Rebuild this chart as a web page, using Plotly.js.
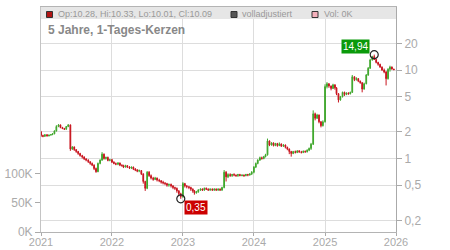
<!DOCTYPE html>
<html>
<head>
<meta charset="utf-8">
<script src="https://cdn.plot.ly/plotly-3.0.1.min.js"></script>
<style>
  html, body { margin: 0; padding: 0; background: #fff; }
  #chart { width: 450px; height: 250px; }
</style>
</head>
<body>
<div id="chart"></div>
<script>
// ---- Data, 3 candles per month, 2021-2025 ----
const years = [2021, 2022, 2023, 2024, 2025];
const candleDays = [1, 11, 21];

const open = [
  2.00,1.82,1.78, 1.86,1.80,1.84, 1.86,1.90,2.05, 2.30,2.40,2.24, 2.18,2.14,2.30, 2.40,1.28,1.35,
  1.26,1.20,1.14, 1.08,1.04,0.99, 0.96,0.92,0.88, 0.84,0.77,0.71, 0.88,0.96,1.12, 1.00,1.03,0.95,
  0.97,0.91,0.88, 0.86,0.89,0.84, 0.83,0.80,0.83, 0.80,0.78,0.80, 0.76,0.74,0.72, 0.73,0.67,0.55,
  0.46,0.70,0.64, 0.60,0.58,0.60, 0.57,0.56,0.54, 0.53,0.52,0.50, 0.51,0.49,0.47, 0.46,0.43,0.40,
  0.37,0.52,0.49, 0.48,0.47,0.45, 0.43,0.41,0.42, 0.44,0.45,0.44, 0.46,0.45,0.44, 0.45,0.44,0.45,
  0.44,0.45,0.44, 0.47,0.70,0.62, 0.66,0.64,0.66, 0.65,0.64,0.66, 0.64,0.65,0.64, 0.66,0.65,0.67,
  0.70,0.80,0.88, 0.96,1.02,1.00, 1.05,1.10,1.58, 1.42,1.50,1.40, 1.48,1.40,1.46, 1.38,1.42,1.34,
  1.28,1.20,1.14, 1.20,1.17,1.22, 1.19,1.17,1.21, 1.19,1.24,1.30, 1.45,3.20,2.85, 3.10,2.60,2.35,
  2.60,6.50,7.00, 6.60,6.20,6.80, 6.30,5.40,4.60, 5.00,5.60,5.30, 5.50,5.40,5.60, 8.40,7.80,8.00,
  7.50,7.20,6.10, 7.00,8.80,10.50, 13.00,14.20,13.20, 12.20,11.60,10.80, 10.00,9.50,8.00, 10.20,10.80,10.28
];
const high = [
  2.05,1.86,1.88, 1.88,1.86,1.89, 1.92,2.08,2.38, 2.45,2.42,2.28, 2.22,2.33,2.45, 2.42,1.38,1.37,
  1.28,1.22,1.16, 1.10,1.06,1.01, 0.98,0.93,0.90, 0.86,0.79,0.90, 0.98,1.18,1.14, 1.05,1.05,0.99,
  0.99,0.93,0.90, 0.91,0.90,0.86, 0.85,0.85,0.84, 0.82,0.81,0.81, 0.78,0.76,0.75, 0.74,0.68,0.56,
  0.72,0.72,0.66, 0.62,0.62,0.61, 0.59,0.57,0.56, 0.54,0.53,0.52, 0.52,0.50,0.48, 0.47,0.44,0.41,
  0.54,0.53,0.50, 0.49,0.48,0.46, 0.44,0.43,0.45, 0.46,0.46,0.47, 0.47,0.46,0.46, 0.46,0.46,0.46,
  0.46,0.46,0.48, 0.74,0.72,0.68, 0.68,0.67,0.68, 0.66,0.67,0.67, 0.66,0.66,0.67, 0.67,0.68,0.72,
  0.82,0.90,0.98, 1.05,1.05,1.07, 1.13,1.68,1.60, 1.53,1.52,1.50, 1.50,1.52,1.48, 1.45,1.44,1.36,
  1.30,1.22,1.22, 1.23,1.24,1.24, 1.22,1.23,1.23, 1.27,1.33,1.50, 3.50,3.30,3.20, 3.15,2.65,2.70,
  6.90,7.30,7.10, 6.70,7.00,6.90, 6.40,5.50,5.10, 5.70,5.70,5.60, 5.60,5.70,8.80, 8.50,8.30,8.10,
  7.60,7.30,7.20, 9.00,10.80,13.40, 14.50,14.94,13.40, 12.40,11.80,11.00, 10.40,9.80,10.50, 11.20,11.00,10.33
];
const low = [
  1.75,1.74,1.76, 1.77,1.78,1.82, 1.84,1.88,2.02, 2.26,2.20,2.15, 2.10,2.12,2.26, 1.22,1.25,1.22,
  1.16,1.10,1.05, 1.00,0.96,0.93, 0.89,0.85,0.82, 0.74,0.69,0.70, 0.86,0.94,0.97, 0.97,0.93,0.93,
  0.89,0.86,0.84, 0.84,0.82,0.81, 0.78,0.79,0.78, 0.76,0.76,0.74, 0.72,0.70,0.70, 0.65,0.52,0.43,
  0.45,0.62,0.58, 0.56,0.57,0.55, 0.54,0.52,0.51, 0.50,0.48,0.48, 0.47,0.45,0.44, 0.41,0.38,0.35,
  0.36,0.47,0.46, 0.45,0.43,0.41, 0.39,0.40,0.41, 0.43,0.43,0.43, 0.44,0.43,0.43, 0.43,0.43,0.43,
  0.43,0.43,0.43, 0.46,0.55,0.60, 0.62,0.62,0.63, 0.62,0.62,0.63, 0.63,0.62,0.63, 0.63,0.64,0.65,
  0.68,0.78,0.86, 0.94,0.97,0.98, 1.03,1.08,1.38, 1.40,1.37,1.38, 1.36,1.38,1.35, 1.35,1.30,1.24,
  1.12,1.05,1.12, 1.14,1.15,1.16, 1.14,1.15,1.16, 1.17,1.21,1.25, 1.42,2.70,2.80, 2.50,2.25,2.30,
  2.55,6.20,6.30, 5.90,6.10,6.00, 5.20,4.30,4.50, 4.90,5.10,5.20, 5.25,5.30,5.50, 7.50,7.60,7.30,
  7.00,5.60,6.00, 6.90,8.60,10.30, 12.80,13.00,11.90, 11.20,10.60,9.80, 9.20,6.70,7.80, 9.60,10.10,10.01
];
const close = [
  1.82,1.78,1.86, 1.80,1.84,1.86, 1.90,2.05,2.30, 2.40,2.24,2.18, 2.14,2.30,2.40, 1.28,1.35,1.26,
  1.20,1.14,1.08, 1.04,0.99,0.96, 0.92,0.88,0.84, 0.77,0.71,0.88, 0.96,1.12,1.00, 1.03,0.95,0.97,
  0.91,0.88,0.86, 0.89,0.84,0.83, 0.80,0.83,0.80, 0.78,0.80,0.76, 0.74,0.72,0.73, 0.67,0.55,0.46,
  0.70,0.64,0.60, 0.58,0.60,0.57, 0.56,0.54,0.53, 0.52,0.50,0.51, 0.49,0.47,0.46, 0.43,0.40,0.37,
  0.52,0.49,0.48, 0.47,0.45,0.43, 0.41,0.42,0.44, 0.45,0.44,0.46, 0.45,0.44,0.45, 0.44,0.45,0.44,
  0.45,0.44,0.47, 0.70,0.62,0.66, 0.64,0.66,0.65, 0.64,0.66,0.64, 0.65,0.64,0.66, 0.65,0.67,0.70,
  0.80,0.88,0.96, 1.02,1.00,1.05, 1.10,1.58,1.42, 1.50,1.40,1.48, 1.40,1.46,1.38, 1.42,1.34,1.28,
  1.20,1.14,1.20, 1.17,1.22,1.19, 1.17,1.21,1.19, 1.24,1.30,1.45, 3.20,2.85,3.10, 2.60,2.35,2.60,
  6.50,7.00,6.60, 6.20,6.80,6.30, 5.40,4.60,5.00, 5.60,5.30,5.50, 5.40,5.60,8.40, 7.80,8.00,7.50,
  7.20,6.10,7.00, 8.80,10.50,13.00, 14.20,13.20,12.20, 11.60,10.80,10.00, 9.50,8.00,10.20, 10.80,10.28,10.09
];

const yearTicks = ['2021-01-01','2022-01-01','2023-01-01','2024-01-01','2025-01-01','2026-01-01'];
const yearLabels = ['2021','2022','2023','2024','2025','2026'];
const priceTicks = [0.2, 0.5, 1, 2, 5, 10, 20];
const priceLabels = ['0,2', '0,5', '1', '2', '5', '10', '20'];
const volTicks = [0, 50000, 100000];
const volLabels = ['0K', '50K', '100K'];

// ---- build dates ----
const dates = [];
years.forEach(y => {
  for (let m = 1; m <= 12; m++) {
    candleDays.forEach(d => {
      dates.push(y + '-' + String(m).padStart(2, '0') + '-' + String(d).padStart(2, '0'));
    });
  }
});

// extremes
let iMax = 0, iMin = 0;
for (let i = 0; i < high.length; i++) {
  if (high[i] > high[iMax]) iMax = i;
  if (low[i] < low[iMin]) iMin = i;
}
const fmt = v => v.toFixed(2).replace('.', ',');
const last = close.length - 1;

// plot geometry (pixels)
const W = 450, H = 250, L = 41, R = 54, T = 7, B = 18;
const PW = W - L - R, PH = H - T - B;
const px = x => (x - L) / PW;
const py = y => (H - B - y) / PH;

const RED = '#c8141e', GREEN = '#3fa72c';
const FONT = 'Liberation Sans, Arial, sans-serif';

const traces = [
  {
    type: 'candlestick',
    x: dates, open: open, high: high, low: low, close: close,
    xaxis: 'x', yaxis: 'y2',
    increasing: { line: { color: GREEN, width: 1 }, fillcolor: GREEN },
    decreasing: { line: { color: RED, width: 1 }, fillcolor: RED },
    whiskerwidth: 0,
    hoverinfo: 'skip',
    showlegend: false
  },
  {
    type: 'scatter', mode: 'markers',
    x: [dates[iMax], dates[iMin]],
    y: [high[iMax], low[iMin]],
    xaxis: 'x', yaxis: 'y2',
    marker: { symbol: 'circle-open', size: 8, color: '#222', line: { width: 1.2, color: '#222' } },
    hoverinfo: 'skip', showlegend: false
  },
  {
    type: 'bar', x: [dates[0]], y: [0], xaxis: 'x', yaxis: 'y',
    marker: { color: '#f4b0bb' }, hoverinfo: 'skip', showlegend: false
  }
];

const tickFont = { family: FONT, size: 12, color: '#aaaaaa' };

const layout = {
  width: W, height: H,
  margin: { l: L, r: R, t: T, b: B, pad: 0 },
  paper_bgcolor: '#ffffff', plot_bgcolor: '#ffffff',
  showlegend: false,
  xaxis: {
    type: 'date',
    range: ['2021-01-01', '2026-01-01'],
    tickvals: yearTicks, ticktext: yearLabels,
    tickfont: { family: FONT, size: 11, color: '#aaaaaa' },
    ticks: 'outside', ticklen: 3, tickcolor: '#aaaaaa',
    ticklabelstandoff: -3,
    showgrid: true, gridcolor: '#dddddd', gridwidth: 1,
    showline: true, linecolor: '#b4b4b4', linewidth: 1, mirror: true,
    rangeslider: { visible: false },
    zeroline: false, fixedrange: true
  },
  yaxis: {
    type: 'linear', range: [0, 387000],
    tickvals: volTicks, ticktext: volLabels,
    tickfont: tickFont,
    ticks: 'outside', ticklen: 5, tickcolor: '#aaaaaa',
    showgrid: false, zeroline: false,
    showline: true, linecolor: '#c4c4c4', linewidth: 1,
    fixedrange: true
  },
  yaxis2: {
    type: 'log', overlaying: 'y', side: 'right',
    range: [-0.831, 1.713],
    tickvals: priceTicks, ticktext: priceLabels,
    tickfont: tickFont,
    ticks: 'outside', ticklen: 5, tickcolor: '#aaaaaa',
    showgrid: true, gridcolor: '#dddddd', gridwidth: 1,
    showline: true, linecolor: '#aaaaaa', linewidth: 1,
    zeroline: false, fixedrange: true
  },
  shapes: [
    { type: 'rect', xref: 'paper', yref: 'paper', x0: 0, x1: 1, y0: py(19), y1: 1,
      fillcolor: '#e6e6e6', line: { width: 0 }, layer: 'above' },
    { type: 'rect', xref: 'paper', yref: 'paper', x0: px(46.5), x1: px(52.5), y0: py(17.5), y1: py(11.5),
      fillcolor: '#b01414', line: { color: '#333', width: 1 }, layer: 'above' },
    { type: 'rect', xref: 'paper', yref: 'paper', x0: px(231), x1: px(237), y0: py(17.5), y1: py(11.5),
      fillcolor: '#555555', line: { color: '#333', width: 1 }, layer: 'above' },
    { type: 'rect', xref: 'paper', yref: 'paper', x0: px(312), x1: px(318), y0: py(17.5), y1: py(11.5),
      fillcolor: '#f4b0bb', line: { color: '#333', width: 1 }, layer: 'above' }
  ],
  annotations: [
    { xref: 'paper', yref: 'paper', x: px(56), y: py(14.5), xanchor: 'left', yanchor: 'middle',
      text: 'Op:' + open[last].toFixed(2) + ', Hi:' + high[last].toFixed(2) + ', Lo:' + low[last].toFixed(2) + ', Cl:' + close[last].toFixed(2),
      showarrow: false, font: { family: FONT, size: 9, color: '#999999' } },
    { xref: 'paper', yref: 'paper', x: px(240), y: py(14.5), xanchor: 'left', yanchor: 'middle',
      text: 'volladjustiert', showarrow: false,
      font: { family: FONT, size: 9, color: '#999999' } },
    { xref: 'paper', yref: 'paper', x: px(322), y: py(14.5), xanchor: 'left', yanchor: 'middle',
      text: 'Vol: 0K', showarrow: false,
      font: { family: FONT, size: 9, color: '#999999' } },
    { xref: 'paper', yref: 'paper', x: px(46), y: py(30), xanchor: 'left', yanchor: 'middle',
      text: '<b>5 Jahre, 1-Tages-Kerzen</b>', showarrow: false,
      font: { family: FONT, size: 12, color: '#888888' } },
    { xref: 'x', yref: 'y2', x: dates[iMax], y: Math.log10(high[iMax]),
      xanchor: 'right', yanchor: 'middle', xshift: -4, yshift: 8.5,
      text: fmt(high[iMax]), showarrow: false, bgcolor: '#0a9a0a', borderpad: 1,
      font: { family: FONT, size: 10, color: '#ffffff' } },
    { xref: 'x', yref: 'y2', x: dates[iMin], y: Math.log10(low[iMin]),
      xanchor: 'left', yanchor: 'middle', xshift: 3, yshift: -8.5,
      text: fmt(low[iMin]), showarrow: false, bgcolor: '#cc0000', borderpad: 1,
      font: { family: FONT, size: 10, color: '#ffffff' } }
  ]
};

Plotly.newPlot('chart', traces, layout, { displayModeBar: false, staticPlot: true });
</script>
</body>
</html>
